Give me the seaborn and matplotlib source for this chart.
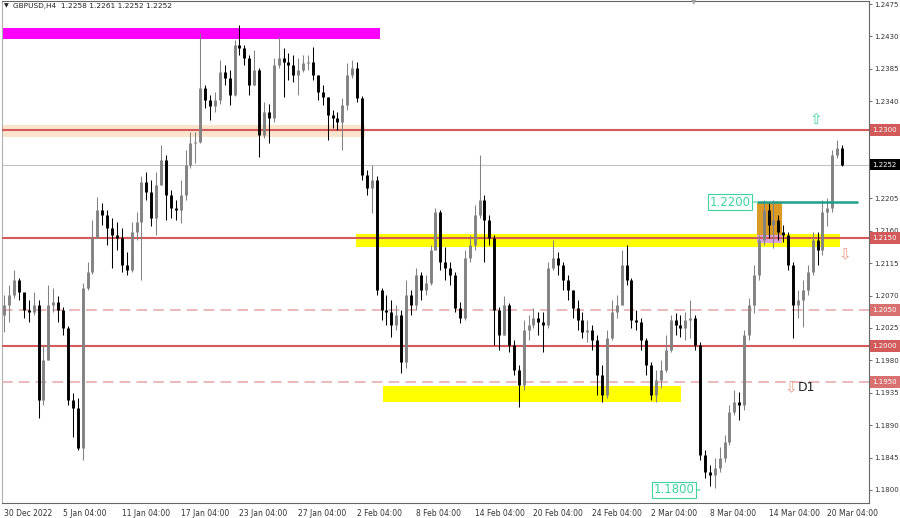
import numpy as np
import pandas as pd
import seaborn as sns
import matplotlib.pyplot as plt
from matplotlib.patches import Rectangle
from matplotlib.transforms import blended_transform_factory

# GBPUSD H4 (one candle here = two H4 bars)
first_open = 1.2043
closes = [
    1.2057, 1.2071, 1.2092, 1.2075, 1.2050, 1.2047, 1.2057, 1.1925, 1.1981, 1.2057,
    1.2061, 1.2050, 1.2025, 1.1925, 1.1914, 1.1858, 1.2081, 1.2103, 1.2150, 1.2189,
    1.2182, 1.2164, 1.2154, 1.2150, 1.2113, 1.2106, 1.2158, 1.2172, 1.2228, 1.2214,
    1.2178, 1.2224, 1.2258, 1.2210, 1.2192, 1.2189, 1.2210, 1.2252, 1.2282, 1.2283,
    1.2358, 1.2342, 1.2333, 1.2342, 1.2381, 1.2372, 1.2349, 1.2418, 1.2414, 1.2400,
    1.2363, 1.2383, 1.2293, 1.2325, 1.2317, 1.2390, 1.2400, 1.2394, 1.2390, 1.2376,
    1.2383, 1.2393, 1.2394, 1.2376, 1.2353, 1.2346, 1.2321, 1.2317, 1.2311, 1.2335,
    1.2376, 1.2386, 1.2345, 1.2238, 1.2220, 1.2231, 1.2078, 1.2050, 1.2047, 1.2029,
    1.2043, 1.1978, 1.2071, 1.2057, 1.2099, 1.2078, 1.2088, 1.2133, 1.2186, 1.2117,
    1.2108, 1.2099, 1.2053, 1.2039, 1.2122, 1.2140, 1.2182, 1.2203, 1.2175, 1.2150,
    1.2050, 1.2015, 1.2057, 1.2002, 1.1967, 1.1946, 1.2022, 1.2029, 1.2039, 1.2033,
    1.2029, 1.2108, 1.2122, 1.2113, 1.2092, 1.2078, 1.2053, 1.2036, 1.2019, 1.2022,
    1.2008, 1.1960, 1.1932, 1.2011, 1.2047, 1.2057, 1.2113, 1.2092, 1.2036, 1.2033,
    1.2008, 1.1974, 1.1932, 1.1953, 1.1967, 1.1994, 1.2036, 1.2029, 1.2025, 1.2036,
    1.2039, 1.2002, 1.1849, 1.1825, 1.1821, 1.1831, 1.1844, 1.1866, 1.1908, 1.1922,
    1.1918, 1.2015, 1.2057, 1.2099, 1.2147, 1.2189, 1.2168, 1.2175, 1.2158, 1.2154,
    1.2113, 1.2057, 1.2064, 1.2078, 1.2103, 1.2147, 1.2133, 1.2186, 1.2192, 1.2265,
    1.2275, 1.2252,
]
highs = [
    1.2071, 1.2085, 1.2106, 1.2095, 1.2070, 1.2064, 1.2075, 1.2064, 1.2002, 1.2085,
    1.2081, 1.2070, 1.2054, 1.2028, 1.1935, 1.1928, 1.2088, 1.2117, 1.2175, 1.2207,
    1.2199, 1.2189, 1.2178, 1.2172, 1.2164, 1.2131, 1.2172, 1.2186, 1.2236, 1.2242,
    1.2231, 1.2242, 1.2279, 1.2265, 1.2217, 1.2203, 1.2231, 1.2272, 1.2297, 1.2297,
    1.2435, 1.2363, 1.2349, 1.2353, 1.2397, 1.2390, 1.2383, 1.2425, 1.2446, 1.2418,
    1.2404, 1.2411, 1.2386, 1.2339, 1.2336, 1.2400, 1.2429, 1.2414, 1.2407, 1.2404,
    1.2400, 1.2404, 1.2404, 1.2415, 1.2376, 1.2363, 1.2346, 1.2328, 1.2325, 1.2345,
    1.2393, 1.2397, 1.2394, 1.2347, 1.2244, 1.2252, 1.2236, 1.2081, 1.2071, 1.2064,
    1.2057, 1.2050, 1.2092, 1.2078, 1.2108, 1.2103, 1.2099, 1.2140, 1.2192, 1.2189,
    1.2138, 1.2117, 1.2103, 1.2061, 1.2133, 1.2154, 1.2196, 1.2265, 1.2210, 1.2182,
    1.2154, 1.2054, 1.2070, 1.2060, 1.2008, 1.1974, 1.2036, 1.2043, 1.2053, 1.2047,
    1.2047, 1.2117, 1.2147, 1.2131, 1.2117, 1.2099, 1.2078, 1.2064, 1.2047, 1.2036,
    1.2029, 1.2015, 1.1974, 1.2022, 1.2064, 1.2071, 1.2133, 1.2140, 1.2095, 1.2050,
    1.2039, 1.2011, 1.1978, 1.1967, 1.1981, 1.2015, 1.2043, 1.2046, 1.2043, 1.2047,
    1.2064, 1.2043, 1.2006, 1.1856, 1.1835, 1.1844, 1.1860, 1.1876, 1.1918, 1.1939,
    1.1936, 1.2022, 1.2067, 1.2113, 1.2154, 1.2203, 1.2199, 1.2203, 1.2182, 1.2168,
    1.2158, 1.2117, 1.2078, 1.2092, 1.2113, 1.2158, 1.2158, 1.2203, 1.2206, 1.2272,
    1.2286, 1.2279,
]
lows = [
    1.2019, 1.2033, 1.2067, 1.2064, 1.2039, 1.2033, 1.2043, 1.1900, 1.1918, 1.1981,
    1.2047, 1.2033, 1.2015, 1.1918, 1.1874, 1.1856, 1.1842, 1.2078, 1.2100, 1.2150,
    1.2168, 1.2140, 1.2108, 1.2133, 1.2103, 1.2099, 1.2103, 1.2147, 1.2092, 1.2203,
    1.2167, 1.2154, 1.2224, 1.2175, 1.2178, 1.2175, 1.2171, 1.2203, 1.2247, 1.2254,
    1.2282, 1.2331, 1.2314, 1.2325, 1.2336, 1.2363, 1.2335, 1.2347, 1.2404, 1.2390,
    1.2349, 1.2363, 1.2263, 1.2289, 1.2282, 1.2311, 1.2386, 1.2346, 1.2370, 1.2367,
    1.2349, 1.2381, 1.2383, 1.2370, 1.2342, 1.2335, 1.2286, 1.2303, 1.2300, 1.2272,
    1.2328, 1.2372, 1.2339, 1.2231, 1.2210, 1.2185, 1.2071, 1.2036, 1.2029, 1.2013,
    1.2022, 1.1963, 1.1970, 1.2043, 1.2050, 1.2064, 1.2071, 1.2085, 1.2133, 1.2106,
    1.2092, 1.2085, 1.2047, 1.2032, 1.2036, 1.2117, 1.2133, 1.2178, 1.2117, 1.2140,
    1.2002, 1.1994, 1.2015, 1.1992, 1.1960, 1.1915, 1.1939, 1.2008, 1.2025, 1.2015,
    1.1992, 1.2025, 1.2106, 1.2099, 1.2078, 1.2064, 1.2039, 1.2022, 1.2011, 1.2006,
    1.1994, 1.1932, 1.1922, 1.1928, 1.2008, 1.2039, 1.2057, 1.2085, 1.2025, 1.2022,
    1.1994, 1.1960, 1.1925, 1.1922, 1.1942, 1.1964, 1.1992, 1.2015, 1.2013, 1.2008,
    1.2011, 1.1994, 1.1842, 1.1817, 1.1806, 1.1803, 1.1825, 1.1839, 1.1862, 1.1904,
    1.1897, 1.1911, 1.2008, 1.2046, 1.2092, 1.2140, 1.2150, 1.2136, 1.2147, 1.2144,
    1.2106, 1.2011, 1.2039, 1.2026, 1.2071, 1.2099, 1.2113, 1.2126, 1.2167, 1.2186,
    1.2261, 1.2250,
]

date_labels = ["30 Dec 2022", "5 Jan 04:00", "11 Jan 04:00", "17 Jan 04:00", "23 Jan 04:00",
               "27 Jan 04:00", "2 Feb 04:00", "8 Feb 04:00", "14 Feb 04:00", "20 Feb 04:00",
               "24 Feb 04:00", "2 Mar 04:00", "8 Mar 04:00", "14 Mar 04:00", "20 Mar 04:00"]
price_ticks = [1.2475, 1.2430, 1.2385, 1.2340, 1.2295, 1.2250, 1.2205, 1.2160,
               1.2115, 1.2070, 1.2025, 1.1980, 1.1935, 1.1890, 1.1845, 1.1800]

solid_levels = [1.2300, 1.2150, 1.2000]
dashed_levels = [1.2050, 1.1950]
last_price = 1.2252

# build candles
opens = [first_open] + closes[:-1]
df = pd.DataFrame({"bar": np.arange(len(closes)), "open": opens, "high": highs,
                   "low": lows, "close": closes})
df["side"] = np.where(df["close"] >= df["open"], "up", "down")
wicks = df.melt(id_vars=["bar", "side"], value_vars=["low", "high"], value_name="price")
bodies = df.melt(id_vars=["bar", "side"], value_vars=["open", "close"], value_name="price")

sns.set_theme(style="white")
plt.rcParams["font.family"] = ["DejaVu Sans"]
plt.rcParams["lines.solid_capstyle"] = "butt"

fig = plt.figure(figsize=(9, 5.18), dpi=100)
ax = fig.add_axes([0.002, 0.029, 0.9636, 0.969])

candle_colors = {"up": "#828282", "down": "#000000"}
sns.lineplot(data=wicks, x="bar", y="price", hue="side", units="bar", estimator=None,
             palette=candle_colors, linewidth=0.75, legend=False, ax=ax, zorder=4)
sns.lineplot(data=bodies, x="bar", y="price", hue="side", units="bar", estimator=None,
             palette=candle_colors, linewidth=2.1, legend=False, ax=ax, zorder=4)

ax.set_xlim(-0.5, 176.5)
ax.set_ylim(1.17819, 1.24792)

# zones
ax.add_patch(Rectangle((-1, 1.2427), 77.7, 0.0015, fc="#ff00ff", ec="none", zorder=2))
ax.add_patch(Rectangle((-1, 1.2290), 74.6, 0.0017, fc="#fce3cc", ec="none", zorder=1))
ax.add_patch(Rectangle((71.8, 1.2137), 98.8, 0.0018, fc="#ffff00", ec="none", zorder=1))
ax.add_patch(Rectangle((77.3, 1.1922), 60.8, 0.0022, fc="#ffff00", ec="none", zorder=1))
ax.add_patch(Rectangle((153.6, 1.2154), 5.1, 0.0045, fc="#d99a26", ec="none", zorder=3))
ax.add_patch(Rectangle((153.6, 1.2143), 5.1, 0.0011, fc="#d9a3de", ec="none", zorder=3))

# levels
for lvl in solid_levels:
    ax.axhline(lvl, color="#d25a5a", lw=1.5, zorder=3)
for lvl in dashed_levels:
    ax.axhline(lvl, color="#e6a6a6", lw=1.1, dashes=(7, 4), zorder=3)
ax.axhline(last_price, color="#c4c4c4", lw=0.8, zorder=1)
ax.hlines(1.2200, 153.6, 174.2, color="#1f9e8c", lw=1.8, zorder=5)

green = "#3ed49c"
salmon = "#ec9b86"
ax.annotate("1.2200", xy=(153.6, 1.2200), xytext=(148.1, 1.2200), ha="center", va="center",
            fontsize=8.5, color=green, zorder=6,
            bbox=dict(boxstyle="square,pad=0.12", fc="white", ec=green, lw=0.8),
            arrowprops=dict(arrowstyle="-", color=green, lw=0.8, shrinkA=0, shrinkB=0))
ax.annotate("1.1800", xy=(142.0, 1.1800), xytext=(136.7, 1.1800), ha="center", va="center",
            fontsize=8.5, color=green, zorder=6,
            bbox=dict(boxstyle="square,pad=0.12", fc="white", ec=green, lw=0.8),
            arrowprops=dict(arrowstyle="-", color=green, lw=0.8, shrinkA=0, shrinkB=0))
ax.text(165.7, 1.2314, "⇧", color=green, fontsize=11, ha="center", va="center", zorder=6)
ax.text(171.6, 1.2127, "⇩", color=salmon, fontsize=11, ha="center", va="center", zorder=6)
ax.text(160.6, 1.1942, "⇩", color=salmon, fontsize=11, ha="center", va="center", zorder=6)
ax.text(161.9, 1.1942, "D1", color="#222222", fontsize=9, ha="left", va="center", zorder=6)
ax.text(140.8, 1.2478, "▼", color="#a0a0a0", fontsize=5, ha="center", va="center", zorder=6)

# axes styling
ax.set_xlabel("")
ax.set_ylabel("")
ax.set_xticks(range(0, 12 * len(date_labels), 12))
ax.set_xticklabels(date_labels, ha="left")
ax.yaxis.tick_right()
ax.set_yticks(price_ticks)
ax.set_yticklabels(["" if p == 1.2250 else f"{p:.4f}" for p in price_ticks])
ax.tick_params(axis="both", labelsize=5, length=2.5, width=0.6, color="#555555",
               labelcolor="#333333", direction="out")
ax.tick_params(axis="x", labelsize=5.5, pad=1.5)
ax.tick_params(axis="y", pad=1)
for s in ax.spines.values():
    s.set_color("#666666")
    s.set_linewidth(0.8)
ax.spines["left"].set_color("#b0b0b0")

# price boxes on the right scale
tr = blended_transform_factory(ax.transAxes, ax.transData)
box_style = "square,pad=0.4"
for lvl in solid_levels:
    ax.text(1.004, lvl, f"{lvl:.4f}", transform=tr, ha="left", va="center", fontsize=5,
            color="white", clip_on=False, zorder=7,
            bbox=dict(boxstyle=box_style, fc="#d25a5a", ec="none"))
for lvl in dashed_levels:
    ax.text(1.004, lvl, f"{lvl:.4f}", transform=tr, ha="left", va="center", fontsize=5,
            color="white", clip_on=False, zorder=7,
            bbox=dict(boxstyle=box_style, fc="#d87070", ec="none"))
ax.text(1.004, last_price, f"{last_price:.4f}", transform=tr, ha="left", va="center",
        fontsize=5, color="white", clip_on=False, zorder=7,
        bbox=dict(boxstyle=box_style, fc="#000000", ec="none"))

fig.text(0.004, 0.988, "▼", fontsize=4.5, va="center", color="#222222")
fig.text(0.014, 0.988, "GBPUSD,H4  1.2258 1.2261 1.2252 1.2252", fontsize=5.3,
         va="center", color="#222222")

fig.savefig("out.png", dpi=100)
